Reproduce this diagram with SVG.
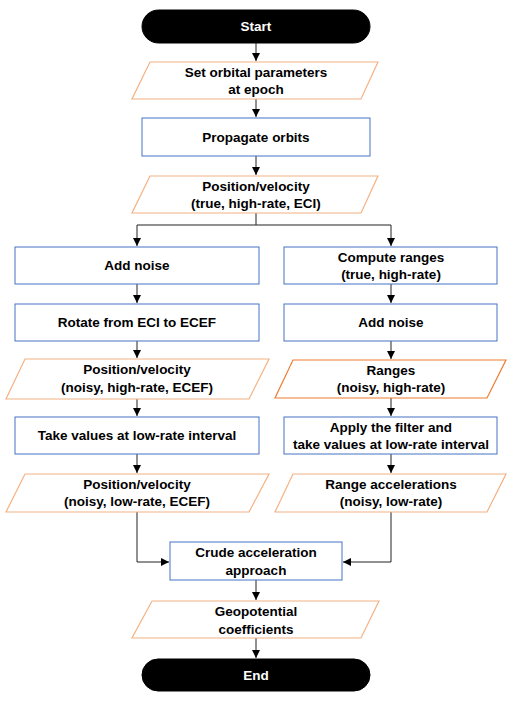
<svg xmlns="http://www.w3.org/2000/svg" width="515" height="702" viewBox="0 0 515 702">
<style>
.term{fill:#000;stroke:#000}
.proc{fill:#fff;stroke:#4472C4;stroke-width:1}
.io{fill:#fff;stroke:#F4B183;stroke-width:1.2}
.io2{fill:#fff;stroke:#ED7D31;stroke-width:1.2}
text{font-family:"Liberation Sans",Arial,sans-serif;font-weight:bold;font-size:13.5px;text-anchor:middle;fill:#000}
.w{fill:#fff}
.c{fill:none;stroke:#222;stroke-width:1}
</style>
<defs>
<marker id="ah" markerWidth="8" markerHeight="8" refX="8" refY="4" orient="auto" markerUnits="userSpaceOnUse">
<path d="M0,0 L8,4 L0,8 Z" fill="#000"/>
</marker>
</defs>
<rect width="515" height="702" fill="#fff"/>
<g id="connectors">
<path class="c" d="M256,43 V61" marker-end="url(#ah)"/>
<path class="c" d="M256,99 V117" marker-end="url(#ah)"/>
<path class="c" d="M256,156 V175" marker-end="url(#ah)"/>
<path class="c" d="M256,213 V225 H137 V246" marker-end="url(#ah)"/>
<path class="c" d="M256,225 H391 V246" marker-end="url(#ah)"/>
<path class="c" d="M137,284 V303" marker-end="url(#ah)"/>
<path class="c" d="M137,341 V358" marker-end="url(#ah)"/>
<path class="c" d="M137,399 V416" marker-end="url(#ah)"/>
<path class="c" d="M137,454 V473" marker-end="url(#ah)"/>
<path class="c" d="M137,512 V562 H169" marker-end="url(#ah)"/>
<path class="c" d="M391,284 V303" marker-end="url(#ah)"/>
<path class="c" d="M391,341 V359" marker-end="url(#ah)"/>
<path class="c" d="M391,398 V416" marker-end="url(#ah)"/>
<path class="c" d="M391,454 V473" marker-end="url(#ah)"/>
<path class="c" d="M391,512 V562 H343" marker-end="url(#ah)"/>
<path class="c" d="M256,580 V600" marker-end="url(#ah)"/>
<path class="c" d="M256,638 V658" marker-end="url(#ah)"/>
</g>
<g id="start">
<rect class="term" x="142" y="10" width="228" height="33" rx="16.5"/>
<text class="w" x="256" y="31">Start</text>
</g>
<g id="set-orbital">
<polygon class="io" points="150,62 378,62 361,99 132,99"/>
<text x="256" y="77">Set orbital parameters</text>
<text x="256" y="94">at epoch</text>
</g>
<g id="propagate">
<rect class="proc" x="142" y="118" width="228" height="38"/>
<text x="256" y="142">Propagate orbits</text>
</g>
<g id="pv-true">
<polygon class="io" points="150,176 378,176 361,213 132,213"/>
<text x="256" y="191">Position/velocity</text>
<text x="256" y="208">(true, high-rate, ECI)</text>
</g>
<g id="add-noise-left">
<rect class="proc" x="15" y="247" width="244" height="37"/>
<text x="137" y="270">Add noise</text>
</g>
<g id="rotate">
<rect class="proc" x="15" y="304" width="244" height="37"/>
<text x="137" y="327">Rotate from ECI to ECEF</text>
</g>
<g id="pv-noisy-high">
<polygon class="io" points="25,359 269,359 249,399 6,399"/>
<text x="137" y="374">Position/velocity</text>
<text x="137" y="392">(noisy, high-rate, ECEF)</text>
</g>
<g id="take-values">
<rect class="proc" x="15" y="417" width="244" height="37"/>
<text x="137" y="440">Take values at low-rate interval</text>
</g>
<g id="pv-noisy-low">
<polygon class="io" points="25,474 269,474 249,512 6,512"/>
<text x="137" y="489">Position/velocity</text>
<text x="137" y="506">(noisy, low-rate, ECEF)</text>
</g>
<g id="compute-ranges">
<rect class="proc" x="284" y="247" width="213" height="37"/>
<text x="391" y="262">Compute ranges</text>
<text x="391" y="279">(true, high-rate)</text>
</g>
<g id="add-noise-right">
<rect class="proc" x="284" y="304" width="213" height="37"/>
<text x="391" y="327">Add noise</text>
</g>
<g id="ranges">
<polygon class="io2" points="293,360 506,360 487,398 275,398"/>
<text x="391" y="375">Ranges</text>
<text x="391" y="392">(noisy, high-rate)</text>
</g>
<g id="apply-filter">
<rect class="proc" x="284" y="417" width="213" height="37"/>
<text x="391" y="432">Apply the filter and</text>
<text x="391" y="449">take values at low-rate interval</text>
</g>
<g id="range-acc">
<polygon class="io" points="293,474 506,474 487,512 275,512"/>
<text x="391" y="489">Range accelerations</text>
<text x="391" y="506">(noisy, low-rate)</text>
</g>
<g id="crude">
<rect class="proc" x="170" y="542" width="172" height="38"/>
<text x="256" y="557">Crude acceleration</text>
<text x="256" y="575">approach</text>
</g>
<g id="geopotential">
<polygon class="io" points="152,601 379,601 361,638 132,638"/>
<text x="256" y="616">Geopotential</text>
<text x="256" y="634">coefficients</text>
</g>
<g id="end">
<rect class="term" x="142" y="659" width="228" height="32" rx="16"/>
<text class="w" x="256" y="680">End</text>
</g>
</svg>
